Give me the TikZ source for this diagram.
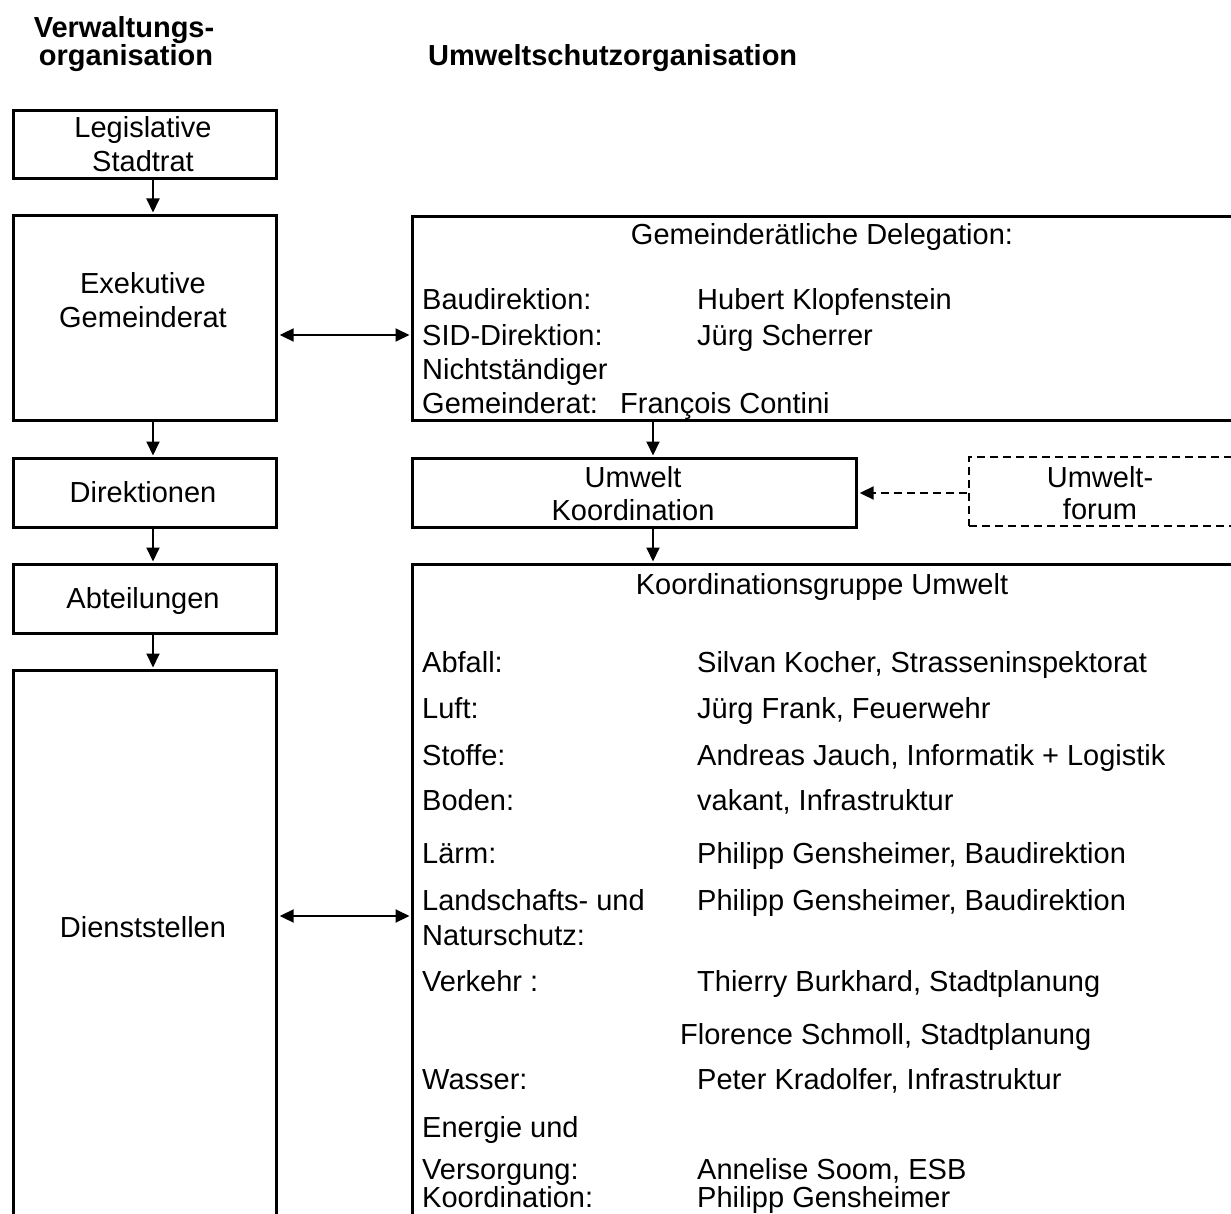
\documentclass[tikz,border=0pt]{standalone}
\usepackage{fontspec}
\setmainfont{Liberation Sans}
\usetikzlibrary{arrows.meta}
\begin{document}
\begin{tikzpicture}[x=1pt,y=-1pt,
  box/.style={draw, line width=3.2pt, rectangle, anchor=north west, inner sep=0pt},
  dbox/.style={draw, line width=2pt, dash pattern=on 8pt off 5pt, rectangle, anchor=north west, inner sep=0pt},
  lbl/.style={anchor=base west, inner sep=0pt, font=\fontsize{29}{34}\selectfont},
  clbl/.style={anchor=base, inner sep=0pt, font=\fontsize{29}{34}\selectfont},
  hdr/.style={anchor=base, inner sep=0pt, font=\fontsize{29}{34}\selectfont\bfseries},
  conn/.style={line width=2pt, -{Triangle[length=14pt,width=13pt]}, shorten >=1.5pt},
  biconn/.style={line width=2pt, {Triangle[length=14pt,width=13pt]}-{Triangle[length=14pt,width=13pt]}, shorten >=1.5pt, shorten <=1.5pt},
  dconn/.style={line width=2pt, dash pattern=on 8pt off 5pt, -{Triangle[length=14pt,width=13pt]}, shorten >=1.5pt, shorten <=1pt},
]
\useasboundingbox (0,0) rectangle (1231,1214);
\clip (0,0) rectangle (1231,1214);

% headers
\node[hdr] (h1) at (124,38) {Verwaltungs-};
\node[hdr] (h2) at (126,66) {organisation};
\node[hdr, anchor=base west] (h3) at (428,66) {Umweltschutzorganisation};

% left column boxes
\node[box, minimum width=263pt, minimum height=68pt] (leg) at (12,109) {};
\node[box, minimum width=263pt, minimum height=205pt] (exe) at (12,214) {};
\node[box, minimum width=263pt, minimum height=69pt] (dir) at (12,457) {};
\node[box, minimum width=263pt, minimum height=69pt] (abt) at (12,563) {};
\node[box, minimum width=263pt, minimum height=570pt] (dst) at (12,669) {};

% right column boxes
\node[box, minimum width=822pt, minimum height=204pt] (gd) at (411,215) {};
\node[box, minimum width=444pt, minimum height=69pt] (uk) at (411,457) {};
\node[dbox, minimum width=266pt, minimum height=69pt] (uf) at (968,456) {};
\node[box, minimum width=822pt, minimum height=670pt] (kg) at (411,563) {};

% left texts
\node[clbl] (t1) at (143,138) {Legislative};
\node[clbl] (t2) at (143,172) {Stadtrat};
\node[clbl] (t3) at (143,294) {Exekutive};
\node[clbl] (t4) at (143,328) {Gemeinderat};
\node[clbl] (t5) at (143,502) {Direktionen};
\node[clbl] (t6) at (143,608) {Abteilungen};
\node[clbl] (t7) at (143,937) {Dienststellen};

% Gemeinderaetliche Delegation
\node[clbl] (g0) at (822,245) {Gemeinderätliche Delegation:};
\node[lbl] (g1) at (422,310) {Baudirektion:};
\node[lbl] (g1b) at (697,310) {Hubert Klopfenstein};
\node[lbl] (g2) at (422,346) {SID-Direktion:};
\node[lbl] (g2b) at (697,346) {Jürg Scherrer};
\node[lbl] (g3) at (422,380) {Nichtständiger};
\node[lbl] (g4) at (422,413) {Gemeinderat:};
\node[lbl] (g4b) at (620,413) {François Contini};

% Umwelt Koordination
\node[clbl] (u1) at (633,487) {Umwelt};
\node[clbl] (u2) at (633,520) {Koordination};
\node[clbl] (f1) at (1100,487) {Umwelt-};
\node[clbl] (f2) at (1100,519) {forum};

% Koordinationsgruppe
\node[clbl] (k0) at (822,594) {Koordinationsgruppe Umwelt};
\node[lbl] (k1) at (422,672) {Abfall:};
\node[lbl] (k1b) at (697,672) {Silvan Kocher, Strasseninspektorat};
\node[lbl] (k2) at (422,718) {Luft:};
\node[lbl] (k2b) at (697,718) {Jürg Frank, Feuerwehr};
\node[lbl] (k3) at (422,765) {Stoffe:};
\node[lbl] (k3b) at (697,765) {Andreas Jauch, Informatik + Logistik};
\node[lbl] (k4) at (422,810) {Boden:};
\node[lbl] (k4b) at (697,810) {vakant, Infrastruktur};
\node[lbl] (k5) at (422,863) {Lärm:};
\node[lbl] (k5b) at (697,863) {Philipp Gensheimer, Baudirektion};
\node[lbl] (k6) at (422,910) {Landschafts- und};
\node[lbl] (k6b) at (697,910) {Philipp Gensheimer, Baudirektion};
\node[lbl] (k6c) at (422,945) {Naturschutz:};
\node[lbl] (k7) at (422,991) {Verkehr :};
\node[lbl] (k7b) at (697,991) {Thierry Burkhard, Stadtplanung};
\node[lbl] (k7c) at (680,1044) {Florence Schmoll, Stadtplanung};
\node[lbl] (k8) at (422,1089) {Wasser:};
\node[lbl] (k8b) at (697,1089) {Peter Kradolfer, Infrastruktur};
\node[lbl] (k9) at (422,1137) {Energie und};
\node[lbl] (k9b) at (422,1179) {Versorgung:};
\node[lbl] (k9c) at (697,1179) {Annelise Soom, ESB};
\node[lbl] (k10) at (422,1207) {Koordination:};
\node[lbl] (k10b) at (697,1207) {Philipp Gensheimer};

% connectors
\coordinate (lx) at (153,0);
\coordinate (rx) at (653,0);
\coordinate (ya) at (0,335);
\coordinate (yb) at (0,916);
\coordinate (yc) at (0,493);
\draw[conn] (leg.south -| lx) -- (exe.north -| lx);
\draw[conn] (exe.south -| lx) -- (dir.north -| lx);
\draw[conn] (dir.south -| lx) -- (abt.north -| lx);
\draw[conn] (abt.south -| lx) -- (dst.north -| lx);
\draw[conn] (gd.south -| rx) -- (uk.north -| rx);
\draw[conn] (uk.south -| rx) -- (kg.north -| rx);
\draw[biconn] (exe.east |- ya) -- (gd.west |- ya);
\draw[biconn] (dst.east |- yb) -- (kg.west |- yb);
\draw[dconn] (uf.west |- yc) -- (uk.east |- yc);
\end{tikzpicture}
\end{document}
